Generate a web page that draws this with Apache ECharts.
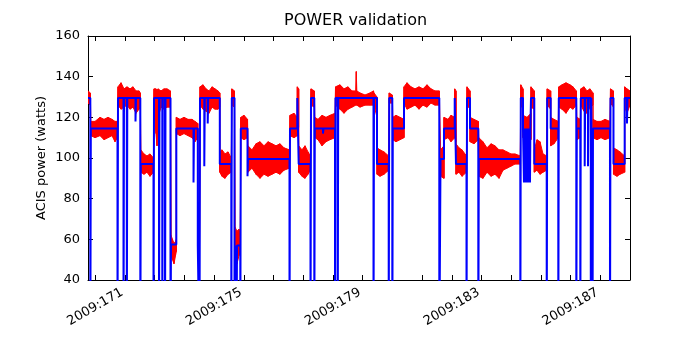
<!DOCTYPE html>
<html><head><meta charset="utf-8">
<script src="https://cdn.jsdelivr.net/npm/echarts@6/dist/echarts.min.js"></script>
<style>html,body{margin:0;padding:0;background:#fff}#c{width:700px;height:350px}</style>
</head><body><div id="c"></div>
<script>
const chartTitle = 'POWER validation';
const yAxisTitle = 'ACIS power (watts)';
const dayTicks = [171,172,173,174,175,176,177,178,179,180,181,182,183,184,185,186,187,188];
const labelDays = [171,175,179,183,187];
const yLimits = [40, 160];
const timeLimits = [170.754, 189.0];

// Model (blue): [day of 2009, watts] change points, value holds until next point
const modelSteps = [
 [170.754,129.5],[170.832,0],[170.849,114.5],[171.747,0],[171.764,129.5],[171.949,0],[171.966,129.5],
 [172.060,0],[172.077,129.5],[172.353,118],[172.370,129.5],[172.515,0],[172.532,97],[172.959,0],
 [172.976,129.5],[173.144,0],[173.161,129.5],[173.255,0],[173.272,129.5],[173.346,0],[173.363,129.5],
 [173.531,0],[173.548,57.5],[173.727,114.5],[174.306,88],[174.323,114.5],[174.450,57],[174.508,0],
 [174.525,129.5],[174.669,96],[174.686,129.5],[174.784,117],[174.801,129.5],[175.191,97],[175.578,0],
 [175.595,129.5],[175.686,0],[175.703,57],[175.753,0],[175.770,57],[175.881,0],[175.898,114.5],
 [176.124,91],[176.140,99.5],[177.537,0],[177.554,114.5],[177.800,129.5],[177.847,97],[178.244,0],
 [178.261,129.5],[178.372,0],[178.389,114.5],[178.665,112],[178.682,114.5],[179.069,0],[179.086,129.5],
 [179.160,0],[179.177,129.5],[180.365,0],[180.382,129.5],[180.483,97],[180.877,0],[180.894,129.5],
 [180.998,0],[181.015,114.5],[181.392,129.5],[182.580,0],[182.621,99.5],[182.738,114.5],[183.099,129.5],
 [183.142,97],[183.496,0],[183.513,129.5],[183.614,114.5],[183.893,0],[183.910,99.5],[185.307,0],
 [185.324,129.5],[185.398,114.5],[185.431,88],[185.441,114.5],[185.465,88],[185.482,114.5],[185.505,88],
 [185.519,114.5],[185.542,88],[185.556,114.5],[185.596,88],[185.613,114.5],[185.633,88],[185.647,114.5],
 [185.667,129.5],[185.778,97],[186.196,0],[186.212,129.5],[186.330,114.5],[186.586,0],[186.603,129.5],
 [187.192,0],[187.209,114.5],[187.327,0],[187.343,129.5],[187.475,96],[187.492,129.5],[187.586,96],
 [187.603,129.5],[187.680,0],[187.697,129.5],[187.737,0],[187.754,114.5],[188.326,0],[188.343,129.5],
 [188.444,97],[188.821,129.5],[188.899,117],[188.915,129.5],[189.000,129.5]
];

// Telemetry (red): [day of 2009, low watts, high watts] envelope
const telemetryBand = [
 [170.754,127,133],[170.832,126,132],
 [170.849,111,118],[170.990,110,118],[171.158,111,120],[171.293,109,119],[171.428,110,120],[171.562,111,119],[171.663,108,118],[171.747,110,118],
 [171.764,126,135],[171.865,124,137],[171.966,125,134],[172.067,126,135],[172.168,124,134],[172.269,125,135],[172.370,122,133],[172.471,124,133],[172.515,125,132],
 [172.532,93,104],[172.639,92,102],[172.740,93,101],[172.841,91,102],[172.959,93,100],
 [172.976,125,134],[173.043,112,134],[173.077,106,133],[173.111,120,134],[173.212,125,133],[173.313,124,134],[173.414,125,134],[173.531,125,133],
 [173.548,52,62],[173.599,50,60],[173.649,48,58],[173.700,52,59],[173.727,54,60],
 [173.727,112,120],[173.851,111,119],[173.986,112,120],[174.121,111,119],[174.255,110,119],[174.356,108,118],[174.450,110,117],
 [174.450,54,60],[174.508,54,58],
 [174.525,126,135],[174.626,124,136],[174.727,123,134],[174.828,122,133],[174.929,125,135],[175.030,124,134],[175.131,124,133],[175.191,125,132],
 [175.191,93,103],[175.265,91,104],[175.366,90,102],[175.467,92,103],[175.578,93,100],
 [175.595,126,134],[175.686,125,133],
 [175.703,50,66],[175.770,48,64],[175.837,52,65],[175.881,55,62],
 [175.898,110,120],[176.006,109,121],[176.124,110,119],
 [176.140,93,106],[176.275,95,104],[176.410,92,107],[176.544,90,108],[176.679,92,106],[176.814,91,108],[176.948,92,107],[177.083,93,106],[177.218,92,107],[177.352,94,105],[177.537,95,104],
 [177.554,111,121],[177.689,110,122],[177.800,111,120],
 [177.800,115,135],[177.847,115,134],
 [177.847,93,106],[177.958,91,104],[178.059,90,106],[178.160,92,103],[178.244,94,101],
 [178.261,126,134],[178.372,125,133],
 [178.389,110,120],[178.497,109,119],[178.631,106,121],[178.766,108,120],[178.901,109,121],[179.069,110,122],
 [179.086,126,135],[179.237,124,136],[179.372,122,134],[179.507,124,135],[179.641,125,133],[179.769,126,133],[179.786,126,142.5],[179.803,126,133],[179.911,125,132],[180.079,126,131],[180.247,126,132],[180.365,126,133],
 [180.382,126,132],[180.483,120,130],
 [180.483,92,105],[180.584,91,104],[180.719,92,103],[180.877,94,101],
 [180.894,127,132],[180.998,127,131],
 [181.015,109,120],[181.122,108,121],[181.257,109,120],[181.392,110,119],
 [181.392,127,135],[181.493,124,137],[181.627,125,135],[181.762,126,134],[181.897,124,135],[182.031,126,134],[182.166,125,136],[182.301,127,134],[182.435,126,133],[182.580,126,133],
 [182.621,91,104],[182.738,90,106],
 [182.738,109,120],[182.873,110,119],[182.974,108,121],[183.099,110,120],
 [183.099,110,134],[183.142,108,133],
 [183.142,92,107],[183.243,93,105],[183.344,91,104],[183.496,93,101],
 [183.513,126,135],[183.614,124,133],
 [183.614,108,120],[183.748,107,119],[183.893,109,118],
 [183.910,91,110],[184.051,90,108],[184.186,93,105],[184.320,91,107],[184.455,92,106],[184.590,90,104],[184.724,94,104],[184.859,95,103],[184.994,96,102],[185.128,97,102],[185.307,97,101],
 [185.324,126,136],[185.398,124,134],
 [185.398,110,121],[185.532,108,120],[185.667,109,122],
 [185.667,125,135],[185.778,124,133],
 [185.778,93,104],[185.869,94,109],[185.970,92,108],[186.071,93,102],[186.196,94,101],
 [186.212,126,134],[186.330,124,133],
 [186.330,106,120],[186.441,107,119],[186.586,110,118],
 [186.603,125,135],[186.711,124,136],[186.845,122,137],[186.980,125,136],[187.081,124,135],[187.192,126,133],
 [187.209,109,120],[187.327,110,119],
 [187.343,126,134],[187.451,123,135],[187.552,122,133],[187.653,125,134],[187.754,126,132],
 [187.754,110,119],[187.889,109,118],[188.023,110,118],[188.158,109,119],[188.326,110,118],
 [188.343,127,134],[188.444,125,133],
 [188.444,92,105],[188.562,91,104],[188.663,92,103],[188.821,93,101],
 [188.821,125,135],[188.899,122,134],[189.000,126,133]
];

const FONT = 'DejaVu Sans';
const chart = echarts.init(document.getElementById('c'), null, {renderer: 'canvas'});

function renderBand(params, api) {
  const i = params.dataIndex;
  if (i >= telemetryBand.length - 1) return null;
  const a = telemetryBand[i], b = telemetryBand[i + 1];
  const pts = [
    api.coord([a[0], a[2]]), api.coord([b[0], b[2]]),
    api.coord([b[0], b[1]]), api.coord([a[0], a[1]])
  ];
  return {
    type: 'polygon', shape: {points: pts},
    style: {fill: '#ff0000', stroke: '#ff0000', lineWidth: 1}
  };
}

const xBase = {
  type: 'value', min: timeLimits[0], max: timeLimits[1],
  splitLine: {show: false},
  axisLine: {show: true, onZero: false, lineStyle: {color: '#000', width: 1}},
};
const yBase = {
  type: 'value', min: yLimits[0], max: yLimits[1], interval: 20,
  splitLine: {show: false},
  axisLine: {show: true, onZero: false, lineStyle: {color: '#000', width: 1}},
  axisTick: {show: true, inside: true, length: 5, lineStyle: {color: '#000'}},
};

chart.setOption({
  animation: false,
  backgroundColor: '#fff',
  title: {
    text: chartTitle, left: 284, top: 13, padding: 0,
    textStyle: {fontFamily: FONT, fontSize: 16, fontWeight: 'normal', color: '#000'}
  },
  grid: {left: 88, right: 70, top: 36, bottom: 70, containLabel: false},
  xAxis: [
    Object.assign({}, xBase, {
      position: 'bottom',
      axisTick: {show: true, inside: true, length: 5, customValues: dayTicks, lineStyle: {color: '#000'}},
      axisLabel: {
        show: true, customValues: labelDays, rotate: 30, align: 'center', verticalAlign: 'middle',
        margin: 27, fontFamily: FONT, fontSize: 13, color: '#000',
        formatter: v => '2009:' + Math.round(v)
      }
    }),
    Object.assign({}, xBase, {
      position: 'top',
      axisTick: {show: true, inside: true, length: 5, customValues: dayTicks, lineStyle: {color: '#000'}},
      axisLabel: {show: false}
    })
  ],
  yAxis: [
    Object.assign({}, yBase, {
      position: 'left',
      name: yAxisTitle, nameLocation: 'middle', nameGap: 40, nameMoveOverlap: false,
      nameTextStyle: {fontFamily: FONT, fontSize: 13, color: '#000'},
      axisLabel: {show: true, margin: 8, fontFamily: FONT, fontSize: 13, color: '#000'}
    }),
    Object.assign({}, yBase, {
      position: 'right',
      axisLabel: {show: false}
    })
  ],
  series: [
    {
      type: 'custom', data: telemetryBand, renderItem: renderBand, silent: true, clip: true,
      encode: {x: 0, y: [1, 2]}, xAxisIndex: 0, yAxisIndex: 0
    },
    {
      type: 'line', data: modelSteps, step: 'end', symbol: 'none', silent: true, clip: true,
      lineStyle: {color: '#0000ff', width: 2},
      xAxisIndex: 0, yAxisIndex: 0
    }
  ]
});
</script>
</body></html>
